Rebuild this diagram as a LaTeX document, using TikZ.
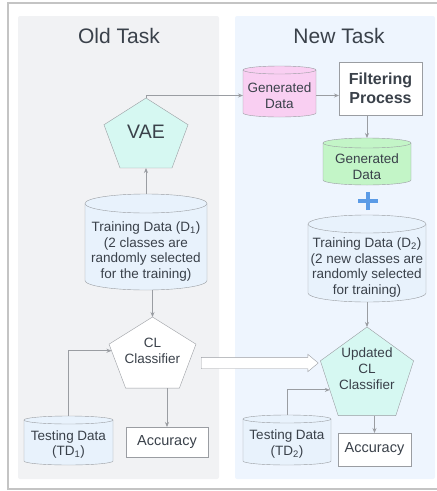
\documentclass[tikz,border=0pt]{standalone}
\usepackage{fontspec}
\setmainfont{Liberation Sans}
\usetikzlibrary{positioning,calc,arrows.meta}
\usetikzlibrary{shapes.geometric,shapes.arrows}

\definecolor{txt}{HTML}{3A414A}
\definecolor{edge}{HTML}{9A9DA2}
\definecolor{frame}{HTML}{C4C4C4}
\definecolor{oldbg}{HTML}{F1F2F4}
\definecolor{newbg}{HTML}{EEF5FE}
\definecolor{cylblue}{HTML}{E8F2FC}
\definecolor{mint}{HTML}{D6F8F2}
\definecolor{pink}{HTML}{F9CFF2}
\definecolor{leaf}{HTML}{C3F5C7}
\definecolor{plusblue}{HTML}{5B9BE6}

\begin{document}
\begin{tikzpicture}[x=1pt,y=-1pt,
  every node/.style={text=txt, align=center, font=\fontsize{13.5}{15.5}\selectfont},
  drum/.style={rectangle, inner sep=0pt, outer sep=0pt},
  penta/.style={regular polygon, regular polygon sides=5, draw=edge, inner sep=0pt, outer sep=0pt},
  box/.style={rectangle, draw=edge, fill=white, inner sep=0pt, outer sep=0pt},
  link/.style={draw=edge, line width=0.8pt, -{Stealth[length=5pt,width=4pt]}}]

  \useasboundingbox (0,0) rectangle (437,491);
  \clip (0,0) rectangle (437,491);

  %frame and panels
  \draw[frame, line width=1.2pt] (8,3) rectangle (445,489);
  \fill[oldbg, rounded corners=2pt] (18,16) rectangle (219,479);
  \fill[newbg, rounded corners=2pt] (235,16) rectangle (435,479);
  \node[font=\fontsize{21}{24}\selectfont] (oldtitle) at (119,36) {Old Task};
  \node[font=\fontsize{21}{24}\selectfont] (newtitle) at (339,36) {New Task};

  %data stores (x/top/width/height/ellipse radius)
  \foreach \name/\cx/\cy/\cw/\ch/\er/\col/\txt in {
      d1/146/194/122/96/9.5/cylblue/{Training Data (D\textsubscript{1})\\(2 classes are\\randomly selected\\for the training)},
      td1/68.5/416/89/49/4/cylblue/{Testing Data\\(TD\textsubscript{1})},
      gen/279.5/66/73/51/4/pink/{Generated\\Data},
      kept/367/138/88/47/5/leaf/{Generated\\Data},
      d2/367/215/118/87/9/cylblue/{Training Data (D\textsubscript{2})\\(2 new classes are\\randomly selected\\for training)},
      td2/287/415/88/50/4/cylblue/{Testing Data\\(TD\textsubscript{2})}}{
    \filldraw[fill=\col, draw=edge] (\cx-\cw/2,\cy+\er) -- (\cx-\cw/2,\cy+\ch-\er)
        arc[start angle=180, end angle=360, x radius=\cw/2*1pt, y radius=\er*1pt]
        -- (\cx+\cw/2,\cy+\er)
        arc[start angle=0, end angle=180, x radius=\cw/2*1pt, y radius=\er*1pt] -- cycle;
    \draw[edge] (\cx-\cw/2,\cy+\er) arc[start angle=180, end angle=360, x radius=\cw/2*1pt, y radius=\er*1pt];
    \coordinate (\name-top) at (\cx,\cy);
    \node[drum, minimum width=\cw, minimum height=\ch-2*\er] (\name) at (\cx,\cy+\er+\ch/2) {\txt};
  }

  %models
  \node[penta, fill=mint, minimum size=88.4, yscale=0.875, transform shape] (vae) at (146,136.7) {};
  \node[font=\fontsize{19.5}{22}\selectfont] (vaetxt) at (146,132) {VAE};
  \node[penta, fill=white, minimum size=91.4, yscale=0.86, transform shape] (cl) at (152.5,356.3) {};
  \node (cltxt) at (152.5,351) {CL\\Classifier};
  \node[penta, fill=mint, minimum size=98] (upd) at (367,376) {};
  \node[font=\fontsize{13.5}{16}\selectfont] (updtxt) at (367,369) {Updated\\CL\\Classifier};

  %boxes
  \node[box, minimum width=83, minimum height=53, font=\bfseries\fontsize{16}{19}\selectfont] (filt) at (380.5,88.5) {Filtering\\Process};
  \node[box, minimum width=82, minimum height=30, font=\fontsize{14.5}{17}\selectfont] (acc1) at (167,442) {Accuracy};
  \node[box, minimum width=73, minimum height=33, font=\fontsize{14.5}{17}\selectfont] (acc2) at (374.5,449.5) {Accuracy};

  %plus
  \coordinate (plus) at (368,201);
  \draw[plusblue, line width=3.5pt] ([xshift=-10pt]plus) -- ([xshift=10pt]plus);
  \draw[plusblue, line width=3.5pt] ([yshift=-9pt]plus) -- ([yshift=9pt]plus);

  %carry over
  \node[single arrow, draw=edge, fill=white, anchor=west, minimum height=117, inner xsep=0pt, inner ysep=5.5pt,
        single arrow head extend=3pt, single arrow head indent=0pt, single arrow tip angle=80] (carry) at (201,363) {};

  %links
  \draw[link] (d1-top) -- (vae.south);
  \draw[link] (vae.corner 1) |- (gen.west);
  \draw[link] (gen.east) -- (gen.east -| filt.west);
  \draw[link] (filt.south -| kept-top) -- (kept-top);
  \draw[link] (d1.south -| cl.corner 1) -- (cl.corner 1);
  \draw[link] (cl.south -| acc1.north) -- (acc1.north);
  \draw[link] (td1-top) |- ($(cl.corner 2)!0.15!(cl.corner 3)$);
  \draw[link] (d2.south) -- (upd.corner 1);
  \draw[link] (upd.south -| acc2.north) -- (acc2.north);
  \draw[link] (td2-top) |- ($(upd.corner 2)!0.53!(upd.corner 3)$);
\end{tikzpicture}
\end{document}
